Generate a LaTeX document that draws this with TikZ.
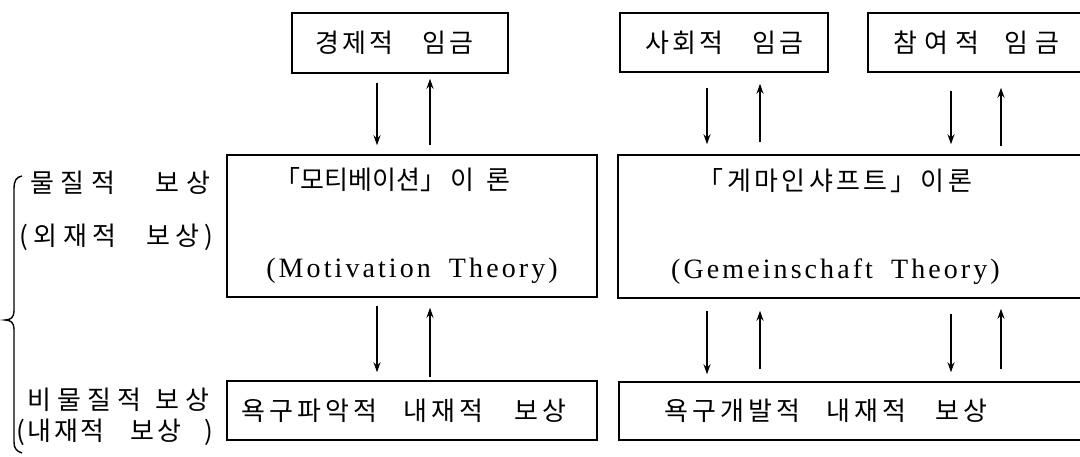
\documentclass[tikz,border=0pt]{standalone}
\usepackage{fontspec}
\setmainfont{Liberation Serif}
\newfontfamily\kr{Noto Sans CJK KR}
\usetikzlibrary{arrows.meta}
\newcommand\K[1]{\kr\addfontfeature{LetterSpace=#1}}
\newcommand\lat{\fontsize{28}{30}\selectfont\addfontfeature{LetterSpace=11}}
\tikzset{
  txt/.style={font=\fontsize{26}{30}\selectfont},
  box/.style={txt, draw, line width=1.5pt, inner sep=0pt, align=center},
  arr/.style={line width=1.4pt, -{Stealth[length=10pt,width=7pt]}},
  lab/.style={txt, anchor=west, inner sep=0pt},
}
\begin{document}
\begin{tikzpicture}[x=1pt,y=-1pt]
\useasboundingbox (0,0) rectangle (1080,456);
% top boxes
\node[box, minimum width=216pt, minimum height=60pt] (econ) at (400,43)
  {\K{12}경제적\hspace{29pt}임금\hspace*{11pt}};
\node[box, minimum width=208pt, minimum height=59pt] (social) at (724,42.5)
  {\K{12}사회적\hspace{29pt}임금};
\node[box, minimum width=217pt, minimum height=59pt] (partic) at (976.5,42.5)
  {\K{27}참여적\hspace{26pt}임금};
% middle boxes
\node[box, minimum width=370pt, minimum height=142pt] (motiv) at (412,226)
  {{\K{0}「모티베이션」\hspace{4pt}이\hspace{12pt}론}\hspace*{39pt}\\[58pt]{\lat(Motivation\hspace{8pt} Theory)}};
\node[box, minimum width=477pt, minimum height=143pt] (gemein) at (856.5,226.5)
  {{\K{13}「게마인샤프트」\hspace{4pt}이론}\hspace*{43pt}\\[58pt]{\lat(Gemeinschaft\hspace{8pt} Theory)}\hspace*{42pt}};
% bottom boxes
\node[box, minimum width=370pt, minimum height=59pt] (needL) at (412,410.5)
  {\K{15}욕구파악적\hspace{27pt}내재적\hspace{31pt}보상\hspace*{16pt}};
\node[box, minimum width=476pt, minimum height=58pt] (needR) at (857,411)
  {\K{15}욕구개발적\hspace{27pt}내재적\hspace{29pt}보상\hspace*{62pt}};
% left labels
\node[lab] (lab1) at (30,183) {\K{26}물질적\hspace{40pt}보상};
\node[lab] (lab2) at (19,237) {\K{20}(\hspace{6pt}외재적\hspace{30pt}보상)};
\node[lab] (lab3) at (27,400) {\K{24}비물질적\hspace{14pt}보상};
\node[lab] (lab4) at (16,432) {\K{10}(내재적\hspace{26pt}보상\hspace{24pt})};
% brace
\draw[line width=1.4pt] (22,176) .. controls (16,177) and (14,181) .. (14,189) -- (14,311)
  .. controls (14,317) and (11,320) .. (5,320) .. controls (11,320) and (14,323) .. (14,329)
  -- (14,442) .. controls (14,448) and (16,451) .. (22,453);
% arrow x positions
\coordinate (xa) at (377,0);
\coordinate (xb) at (430,0);
\coordinate (xc) at (707,0);
\coordinate (xd) at (760,0);
\coordinate (xe) at (951,0);
\coordinate (xf) at (1001,0);
% top arrows
\draw[arr, shorten <=9pt, shorten >=9pt] (econ.south -| xa) -- (motiv.north -| xa);
\draw[arr, shorten <=9pt, shorten >=5pt] (motiv.north -| xb) -- (econ.south -| xb);
\draw[arr, shorten <=15pt, shorten >=10pt] (social.south -| xc) -- (gemein.north -| xc);
\draw[arr, shorten <=12pt, shorten >=11pt] (gemein.north -| xd) -- (social.south -| xd);
\draw[arr, shorten <=18pt, shorten >=10pt] (partic.south -| xe) -- (gemein.north -| xe);
\draw[arr, shorten <=8pt, shorten >=15pt] (gemein.north -| xf) -- (partic.south -| xf);
% bottom arrows
\draw[arr, shorten <=8pt, shorten >=8pt] (motiv.south -| xa) -- (needL.north -| xa);
\draw[arr, shorten <=3pt, shorten >=10pt] (needL.north -| xb) -- (motiv.south -| xb);
\draw[arr, shorten <=12pt, shorten >=7pt] (gemein.south -| xc) -- (needR.north -| xc);
\draw[arr, shorten <=12pt, shorten >=12pt] (needR.north -| xd) -- (gemein.south -| xd);
\draw[arr, shorten <=15pt, shorten >=9pt] (gemein.south -| xe) -- (needR.north -| xe);
\draw[arr, shorten <=12pt, shorten >=10pt] (needR.north -| xf) -- (gemein.south -| xf);
\end{tikzpicture}
\end{document}
